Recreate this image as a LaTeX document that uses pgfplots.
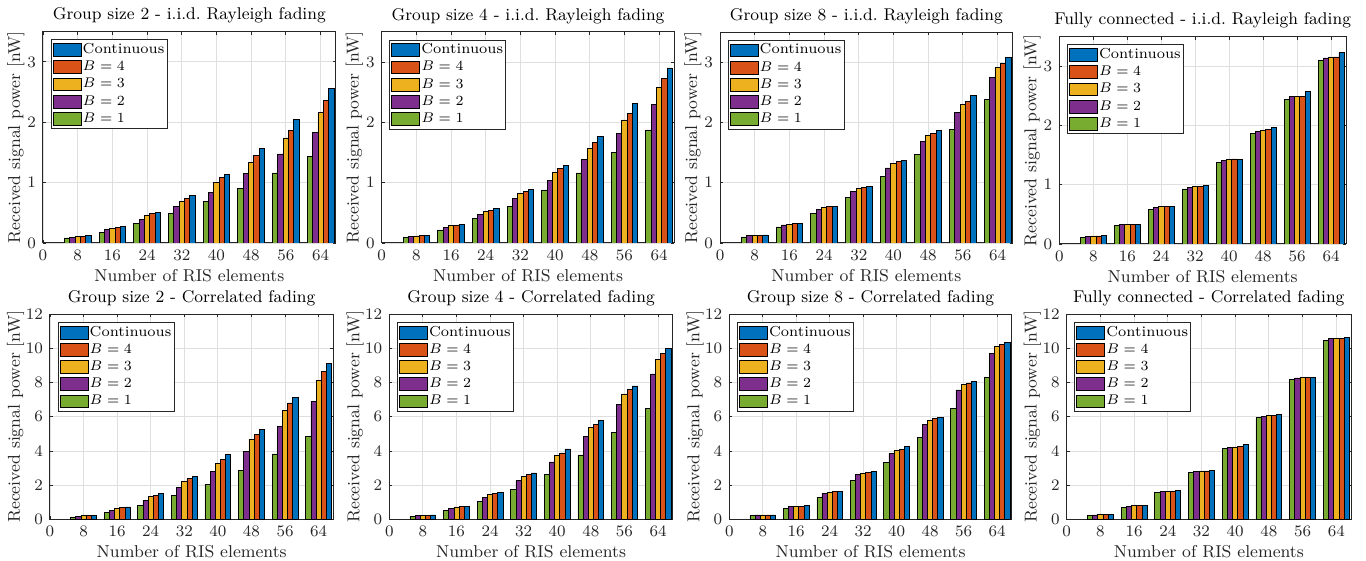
\documentclass[border=0pt]{standalone}
\usepackage{pgfplots}
\usepackage{pgfplotstable}
\pgfplotsset{compat=1.18}
\definecolor{cBlue}{rgb}{0,0.447,0.741}
\definecolor{cOrange}{rgb}{0.85,0.325,0.098}
\definecolor{cYellow}{rgb}{0.929,0.694,0.125}
\definecolor{cPurple}{rgb}{0.494,0.184,0.556}
\definecolor{cGreen}{rgb}{0.466,0.674,0.188}
\definecolor{axgray}{rgb}{0.15,0.15,0.15}
\definecolor{gridgray}{rgb}{0.873,0.873,0.873}

\pgfplotstableread{
x b1 b2 b3 b4 c
8 0.083 0.095 0.105 0.11 0.12
16 0.17 0.22 0.245 0.26 0.27
24 0.33 0.395 0.455 0.49 0.51
32 0.49 0.605 0.695 0.745 0.79
40 0.685 0.84 1.005 1.08 1.14
48 0.905 1.15 1.34 1.455 1.56
56 1.16 1.475 1.74 1.87 2.04
64 1.44 1.835 2.165 2.36 2.56
}\tA
\pgfplotstableread{
x b1 b2 b3 b4 c
8 0.09 0.105 0.117 0.122 0.128
16 0.217 0.26 0.29 0.295 0.306
24 0.406 0.473 0.529 0.545 0.568
32 0.607 0.74 0.818 0.857 0.89
40 0.879 1.04 1.174 1.241 1.291
48 1.163 1.391 1.575 1.669 1.764
56 1.497 1.82 2.042 2.154 2.309
64 1.875 2.293 2.582 2.727 2.905
}\tB
\pgfplotstableread{
x b1 b2 b3 b4 c
8 0.1 0.122 0.122 0.122 0.134
16 0.267 0.3 0.31 0.323 0.323
24 0.49 0.562 0.59 0.6 0.6
32 0.757 0.862 0.907 0.924 0.946
40 1.102 1.247 1.324 1.358 1.369
48 1.469 1.68 1.781 1.82 1.875
56 1.881 2.17 2.298 2.354 2.454
64 2.382 2.743 2.91 2.983 3.088
}\tC
\pgfplotstableread{
x b1 b2 b3 b4 c
8 0.118 0.129 0.135 0.135 0.14
16 0.308 0.331 0.336 0.336 0.331
24 0.589 0.617 0.628 0.634 0.628
32 0.931 0.959 0.97 0.976 0.987
40 1.38 1.413 1.43 1.436 1.425
48 1.862 1.907 1.924 1.935 1.963
56 2.44 2.485 2.496 2.496 2.569
64 3.096 3.141 3.158 3.158 3.231
}\tD
\pgfplotstableread{
x b1 b2 b3 b4 c
8 0.136 0.175 0.214 0.214 0.233
16 0.388 0.524 0.64 0.68 0.72
24 0.816 1.107 1.32 1.4 1.495
32 1.417 1.883 2.214 2.388 2.524
40 2.039 2.796 3.282 3.495 3.786
48 2.854 3.98 4.7 4.99 5.28
56 3.825 5.417 6.388 6.816 7.146
64 4.854 6.913 8.117 8.68 9.146
}\tE
\pgfplotstableread{
x b1 b2 b3 b4 c
8 0.175 0.214 0.233 0.233 0.252
16 0.505 0.64 0.72 0.738 0.777
24 1.049 1.3 1.456 1.515 1.592
32 1.767 2.272 2.505 2.621 2.718
40 2.641 3.359 3.728 3.883 4.117
48 3.767 4.835 5.359 5.573 5.786
56 5.068 6.718 7.34 7.612 7.806
64 6.466 8.505 9.34 9.709 10.0
}\tF
\pgfplotstableread{
x b1 b2 b3 b4 c
8 0.233 0.252 0.252 0.252 0.252
16 0.64 0.738 0.757 0.777 0.796
24 1.3 1.515 1.573 1.612 1.631
32 2.252 2.621 2.7 2.757 2.816
40 3.32 3.845 4.02 4.078 4.252
48 4.777 5.534 5.767 5.883 5.98
56 6.466 7.573 7.903 7.98 8.078
64 8.29 9.728 10.117 10.233 10.369
}\tG
\pgfplotstableread{
x b1 b2 b3 b4 c
8 0.233 0.252 0.272 0.272 0.272
16 0.718 0.777 0.796 0.796 0.796
24 1.592 1.631 1.65 1.65 1.67
32 2.738 2.796 2.835 2.835 2.874
40 4.136 4.214 4.233 4.252 4.369
48 5.942 6.019 6.058 6.058 6.155
56 8.194 8.272 8.291 8.291 8.291
64 10.485 10.583 10.6 10.6 10.66
}\tH

\pgfplotsset{
  rsp/.style={
    scale only axis,
    anchor=north west,
    xmin=0, xmax=67.5,
    xtick={0,8,...,64},
    ymin=0,
    axis line style={axgray, line width=0.5pt},
    every tick/.style={axgray, line width=0.4pt},
    major tick length=1.5pt,
    tick align=inside,
    xmajorgrids, ymajorgrids,
    major grid style={gridgray, line width=0.4pt},
    tick label style={font=\fontsize{7.75}{8}\selectfont, text=axgray},
    every axis title/.style={at={(axis description cs:0.5,1)}, anchor=south,
      font=\fontsize{8.5}{9}\selectfont, yshift=0.6pt},
    every axis x label/.style={at={(axis description cs:0.5,0)}, anchor=base,
      yshift=-19.2pt, font=\fontsize{8.6}{9}\selectfont, text=axgray},
    every axis y label/.style={at={([xshift=-\ylsh]axis description cs:0,0.5)},
      rotate=90, anchor=base, font=\fontsize{8.6}{9}\selectfont, text=axgray},
    xlabel={Number of RIS elements},
    ylabel={Received signal power [nW]},
    legend cell align=left,
    legend style={at={(0,1)}, anchor=north west, xshift=3.8pt, yshift=-3.8pt,
      draw=axgray, fill=white, line width=0.5pt,
      font=\fontsize{7.25}{8}\selectfont, inner sep=0.8pt, row sep=0pt,
      nodes={inner xsep=0.6pt, inner ysep=1.05pt, text height=5pt, text depth=1.5pt}},
    legend image code/.code={\draw[#1, draw=black, line width=0.4pt] (0pt,-3.2pt) rectangle (14pt,3.2pt);},
  },
  row1/.style={rsp, ymax=3.5, ytick={0,1,2,3}},
  row2/.style={rsp, ymax=12, ytick={0,2,...,12}},
  bb/.style={ybar, bar width=1.23, draw=black, line width=0.35pt, fill=#1},
}
\newcommand\ylsh{11.5pt}
\newcommand\bars[1]{%
  \addplot[bb=cBlue, bar shift=2.46] table[x=x,y=c]{#1};
  \addlegendentry{Continuous}
  \addplot[bb=cOrange, bar shift=1.23] table[x=x,y=b4]{#1};
  \addlegendentry{$B=4$}
  \addplot[bb=cYellow, bar shift=0] table[x=x,y=b3]{#1};
  \addlegendentry{$B=3$}
  \addplot[bb=cPurple, bar shift=-1.23] table[x=x,y=b2]{#1};
  \addlegendentry{$B=2$}
  \addplot[bb=cGreen, bar shift=-2.46] table[x=x,y=b1]{#1};
  \addlegendentry{$B=1$}
}

\begin{document}
\begin{tikzpicture}
\useasboundingbox (0,0) rectangle (683pt,280.5pt);

\renewcommand\ylsh{11.5pt}
\begin{axis}[row1, at={(21.5pt,264.65pt)}, width=146.35pt, height=105.65pt,
  title={Group size 2 - i.i.d.\ Rayleigh fading}]
\bars{\tA}
\end{axis}
\begin{axis}[row1, at={(190.85pt,264.5pt)}, width=146.3pt, height=105.5pt,
  title={Group size 4 - i.i.d.\ Rayleigh fading}]
\bars{\tB}
\end{axis}
\begin{axis}[row1, at={(360pt,264.4pt)}, width=146.35pt, height=105.4pt,
  title={Group size 8 - i.i.d.\ Rayleigh fading}]
\bars{\tC}
\end{axis}
\begin{axis}[row1, at={(529.65pt,262.15pt)}, width=143.35pt, height=103.65pt,
  title={Fully connected - i.i.d.\ Rayleigh fading}]
\bars{\tD}
\end{axis}

\renewcommand\ylsh{15pt}
\begin{axis}[row2, at={(25pt,123.35pt)}, width=141.65pt, height=102.5pt,
  title={Group size 2 - Correlated fading}]
\bars{\tE}
\end{axis}
\begin{axis}[row2, at={(194.65pt,123.35pt)}, width=141.7pt, height=102.5pt,
  title={Group size 4 - Correlated fading}]
\bars{\tF}
\end{axis}
\begin{axis}[row2, at={(364.65pt,123.35pt)}, width=141.2pt, height=102.5pt,
  title={Group size 8 - Correlated fading}]
\bars{\tG}
\end{axis}
\begin{axis}[row2, at={(533.35pt,123.35pt)}, width=142.15pt, height=102.5pt,
  title={Fully connected - Correlated fading}]
\bars{\tH}
\end{axis}
\end{tikzpicture}
\end{document}
